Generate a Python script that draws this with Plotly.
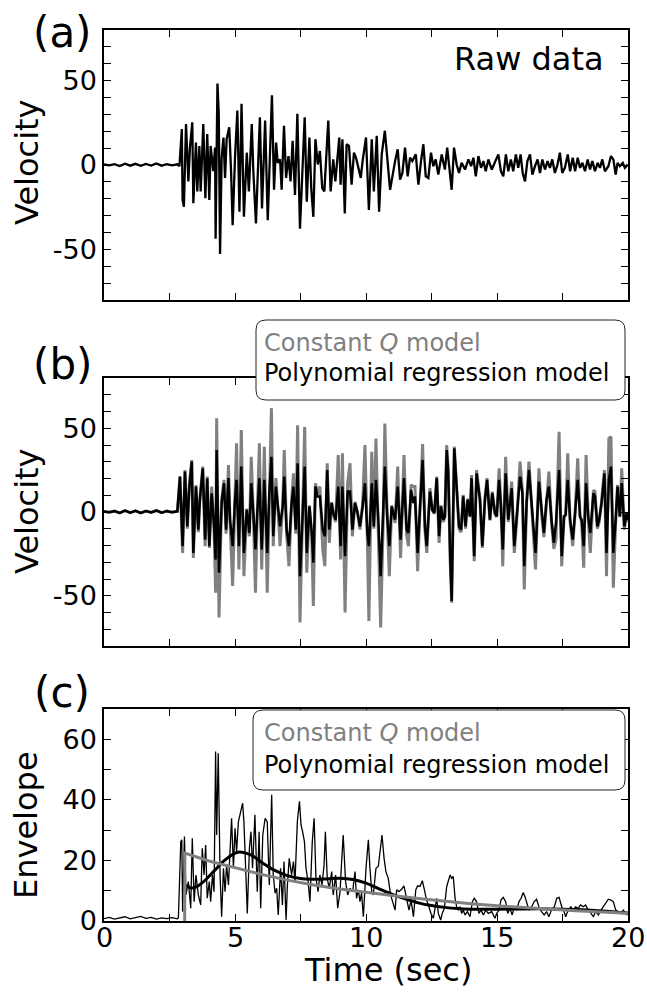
import plotly.graph_objects as go

# ---------------- data ----------------
t_pre = [0.0, 0.2, 0.4, 0.6, 0.8, 1.0, 1.2, 1.4, 1.6, 1.8, 2.0, 2.2, 2.4, 2.6, 2.8]
v_pre = [0.3, -0.2, 0.5, -0.6, 0.8, -0.4, 0.7, -0.5, 0.6, -0.3, 0.9, -0.4, 0.5, -0.2, 0.4]
env_pre = [0.8, 1.2, 0.6, 1.0, 1.4, 0.7, 1.1, 1.5, 0.9, 1.2, 0.6, 1.0, 0.8, 1.1, 0.7]

# (a) raw data
raw_t = [2.88, 2.97, 3.00, 3.05, 3.13, 3.22, 3.28, 3.37, 3.41, 3.51,
         3.56, 3.64, 3.69, 3.79, 3.87, 3.94, 4.02, 4.07, 4.17, 4.24,
         4.26, 4.33, 4.38, 4.43, 4.49, 4.56, 4.62, 4.68, 4.78, 4.85,
         4.91, 5.00, 5.09, 5.17, 5.25, 5.34, 5.45, 5.53, 5.64, 5.70,
         5.80, 5.88, 5.95, 6.03, 6.15, 6.25, 6.34, 6.41, 6.49, 6.57,
         6.63, 6.72, 6.78, 6.87, 6.95, 7.04, 7.12, 7.20, 7.29, 7.38,
         7.48, 7.57, 7.66, 7.74, 7.84, 7.91, 7.99, 8.07, 8.16, 8.24,
         8.33, 8.41, 8.50, 8.56, 8.65, 8.75, 8.83, 8.91, 8.98, 9.03,
         9.10, 9.19, 9.26, 9.35, 9.45, 9.54, 9.62, 9.71, 9.80, 9.87,
         10.00, 10.11, 10.22, 10.30, 10.41, 10.50, 10.60, 10.72, 10.92,
         11.11, 11.21, 11.30, 11.39, 11.49, 11.59, 11.68, 11.77, 11.90, 12.00,
         12.10, 12.19, 12.28, 12.38, 12.48, 12.57, 12.66, 12.76, 12.89, 13.01,
         13.10, 13.21, 13.27, 13.36, 13.46, 13.55, 13.65, 13.78, 13.91, 14.01,
         14.10, 14.19, 14.29, 14.39, 14.48, 14.57, 14.67, 14.80, 14.92, 15.05,
         15.15, 15.24, 15.34, 15.43, 15.53, 15.62, 15.72, 15.81, 15.90, 15.98,
         16.07, 16.16, 16.26, 16.35, 16.45, 16.55, 16.64, 16.73, 16.83, 16.93,
         17.02, 17.11, 17.21, 17.31, 17.40, 17.49, 17.59, 17.70, 17.79, 17.89,
         17.98, 18.08, 18.17, 18.26, 18.36, 18.46, 18.55, 18.64, 18.74, 18.84,
         18.93, 19.02, 19.12, 19.25, 19.35, 19.44, 19.53, 19.60, 19.69, 19.80,
         19.88, 19.99]
raw_v = [-0.7, 21.3, -20.7, -24.7, 24.3, -9.7, 10.3, 25.3, -22.7, 13.3,
         -15.7, 11.3, -15.7, 24.3, -19.7, 18.3, -20.7, 11.3, -3.7, 10.3,
         -43.7, 48.3, 30.3, -52.7, 4.3, 16.3, -7.7, 15.3, 22.3, -3.7,
         -35.7, 4.3, 32.3, -27.7, 36.3, -30.7, 7.3, -15.7, 24.3, -3.7,
         -34.7, -0.7, 28.3, -25.7, 26.3, -32.7, 8.3, 41.3, -14.7, 13.3,
         1.3, 3.3, -14.7, 23.3, -7.7, 5.3, -9.7, 14.3, -17.7, 30.3,
         -37.7, 1.3, 28.3, -21.7, 16.3, -13.7, -30.7, 15.3, 0.3, 8.3,
         -13.7, -15.7, 10.3, 26.3, -15.7, 3.3, -9.7, 4.3, 16.3, -11.7,
         15.3, -28.7, 12.3, 11.3, -11.7, 7.3, 4.3, -1.7, -7.7, 2.3,
         16.3, -26.7, 15.3, -15.7, 17.3, -27.7, 6.3, 20.3, -14.7,
         2.3, 9.3, -8.7, -4.7, 10.3, -6.7, 4.3, 2.3, 6.3, -11.7,
         2.3, 12.3, -6.7, -7.7, 7.3, -0.7, 3.3, -5.7, 6.3, -2.7,
         10.3, -3.7, -14.7, 10.3, 0.3, -4.7, 1.3, -2.7, 3.3, -0.7,
         4.3, -6.7, 5.3, -1.7, 2.3, -3.7, 3.3, -2.7, 1.3, 6.3,
         -3.7, -6.7, 6.3, -3.7, 3.3, -3.7, 6.3, -1.7, 6.3, -4.7,
         -9.7, 2.3, 6.3, -5.7, -0.7, 3.3, -4.7, 3.3, -2.7, 2.3,
         -1.7, 3.3, -4.7, 0.3, 7.3, -4.7, -1.7, 6.3, -3.7, 4.3,
         -3.7, 4.3, -1.7, 1.3, -3.7, 3.3, -2.7, 2.3, -3.7, 1.3,
         -1.7, 3.3, -3.7, -0.7, 5.3, 3.3, -5.7, 1.3, -0.7, 1.3,
         -1.7, 0.3]

# (b) synthetic models (shared time samples)
mod_t = [2.90, 3.00, 3.09, 3.18, 3.26, 3.35, 3.41, 3.51, 3.60, 3.66,
         3.77, 3.86, 3.94, 4.02, 4.11, 4.20, 4.26, 4.30, 4.39, 4.49,
         4.58, 4.66, 4.75, 4.81, 4.91, 5.00, 5.06, 5.15, 5.24, 5.34,
         5.45, 5.55, 5.62, 5.70, 5.78, 5.85, 5.93, 6.02, 6.12, 6.23,
         6.31, 6.39, 6.46, 6.56, 6.65, 6.72, 6.82, 6.88, 6.97, 7.06,
         7.16, 7.23, 7.32, 7.39, 7.48, 7.58, 7.66, 7.74, 7.84, 7.93,
         7.99, 8.07, 8.15, 8.24, 8.35, 8.43, 8.52, 8.60, 8.69, 8.75,
         8.84, 8.94, 9.03, 9.10, 9.20, 9.30, 9.39, 9.48, 9.58, 9.68,
         9.77, 9.87, 9.96, 10.05, 10.11, 10.22, 10.30, 10.38, 10.47, 10.56,
         10.66, 10.72, 10.81, 10.89, 10.98,
         11.11, 11.21, 11.32, 11.45, 11.55, 11.62, 11.72, 11.81, 11.87, 11.97,
         12.06, 12.16, 12.25, 12.32, 12.44, 12.53, 12.61, 12.70, 12.79, 12.86,
         12.95, 13.01, 13.08, 13.14, 13.21, 13.27, 13.37, 13.46, 13.55, 13.63,
         13.71, 13.80, 13.88, 13.97, 14.03, 14.13, 14.22, 14.35, 14.44, 14.54,
         14.62, 14.73, 14.82, 14.92, 14.99, 15.08, 15.15, 15.22, 15.33, 15.43,
         15.56, 15.66, 15.75, 15.88, 15.97, 16.04, 16.13, 16.22, 16.32, 16.41,
         16.47, 16.60, 16.70, 16.79, 16.89, 16.98, 17.08, 17.17, 17.25, 17.37,
         17.47, 17.56, 17.62, 17.70, 17.79, 17.89, 17.98, 18.08, 18.17, 18.23,
         18.31, 18.40, 18.48, 18.56, 18.68, 18.74, 18.83, 18.90, 18.99, 19.10,
         19.18, 19.27, 19.35, 19.44, 19.53, 19.60, 19.69, 19.76, 19.86, 19.95,
         20.0]
poly_v = [21.1, -20.4, 24.1, -8.6, 15.2, 30.1, -24.4, 15.2, -10.5, 7.3,
          26.1, -16.5, 20.2, -20.4, 11.2, -8.6, -28.4, 37.0, -36.3, 5.3,
          17.2, -10.5, 20.2, -4.6, -20.4, 7.3, 19.2, -20.4, 27.1, -24.4,
          1.3, -12.5, 17.2, -0.6, -22.4, -0.6, 20.2, -22.4, 19.2, -24.4,
          11.2, 33.0, -14.5, 15.2, -0.6, -8.6, 3.3, 21.1, -10.5, -20.4,
          5.3, 15.2, -10.5, 29.1, -38.3, 3.3, 27.1, -24.4, 3.3, -12.5,
          -30.3, 15.2, 9.3, 9.3, -10.5, -14.5, 25.1, -10.5, 5.3, -0.6,
          -4.6, 15.2, -20.4, 15.2, -26.4, 12.2, 12.2, -10.5, 5.3, -0.6,
          -8.6, 3.3, 17.2, -12.5, -20.4, 17.2, -8.6, 19.2, -4.6, -38.3,
          -2.6, 27.1, -2.6, -20.4, 3.3,
          -4.6, 15.2, -16.5, 20.2, -10.5, -12.5, 13.2, 5.3, 9.3, -24.4,
          1.3, 31.0, -8.6, -20.4, 12.2, 1.3, -0.6, 20.2, -14.5, 3.3,
          -4.6, -2.6, 37.0, 23.1, -24.4, -53.1, 38.0, 15.2, -8.6, -10.5,
          9.3, -8.6, 7.3, -2.6, 20.2, -26.4, 23.1, 7.3, -20.4, 7.3,
          19.2, -4.6, 11.2, -0.6, -2.6, 19.2, 3.3, -22.4, 23.1, -4.6,
          14.2, -20.4, -4.6, 21.1, 11.2, -32.3, 5.3, 25.1, 5.3, -10.5,
          -24.4, 18.2, -0.6, -12.5, 7.3, 15.2, -4.6, -18.5, -6.6, 25.1,
          -26.4, -2.6, -1.6, 19.2, -4.6, -16.5, -0.6, 19.2, -2.6, -4.6,
          -20.4, 17.2, -2.6, -12.5, 11.2, 9.3, -8.6, -4.6, 5.3, 23.1,
          -24.4, 19.2, 27.1, -24.4, -4.6, 15.2, -2.6, 17.2, -8.6, -0.6,
          -4.6]
constq_v = [21.1, -24.4, 25.1, -10.0, 17.0, 31.0, -27.4, 16.0, -12.0, 8.0,
            27.1, -20.4, 21.1, -21.4, 15.2, -10.0, -48.2, 56.0, -63.0, 7.3,
            19.2, -13.0, 28.1, -6.0, -44.2, 9.0, 41.0, -34.3, 48.9, -38.3,
            2.0, -14.5, 33.0, -1.0, -48.2, -1.0, 41.0, -34.3, 39.0, -48.2,
            14.0, 62.0, -20.4, 20.2, -1.0, -20.4, 4.0, 37.0, -13.0, -32.3,
            6.0, 23.1, -13.0, 51.8, -66.0, 4.0, 50.8, -36.3, 4.0, -15.0,
            -56.1, 17.2, 11.0, 15.2, -22.4, -32.3, 29.1, -18.5, 6.0, -1.0,
            -6.0, 34.0, -28.4, 35.0, -60.0, 17.2, 29.1, -14.5, 6.0, -1.0,
            -10.5, 4.0, 40.0, -15.0, -65.0, 36.0, -10.0, 43.9, -6.0, -69.0,
            -3.0, 52.8, -3.0, -38.3, 4.0,
            -6.6, 27.1, -27.4, 34.0, -13.5, -20.4, 16.2, 15.2, 15.2, -35.3,
            2.0, 40.5, -11.0, -24.4, 14.2, 1.0, -1.0, 21.1, -18.5, 4.0,
            -6.0, -3.0, 40.0, 26.0, -28.4, -54.1, 39.0, 17.0, -10.0, -12.0,
            10.3, -10.0, 8.0, -3.0, 22.1, -29.4, 25.1, 8.0, -21.4, 8.0,
            20.2, -5.0, 12.2, -1.0, -3.0, 26.1, 4.0, -32.3, 33.0, -6.0,
            18.2, -24.4, -6.0, 30.1, 13.0, -46.2, 6.0, 30.1, 6.0, -13.0,
            -34.3, 26.1, -1.0, -15.0, 8.0, 24.1, -6.0, -22.0, -16.5, 47.9,
            -32.3, -3.0, -2.0, 35.0, -6.0, -20.4, -1.0, 32.0, -3.0, -6.0,
            -33.3, 34.0, -3.0, -24.4, 13.0, 12.2, -10.0, -6.0, 6.0, 25.1,
            -38.3, 43.9, 44.9, -45.2, -6.0, 16.2, -3.0, 26.1, -10.5, -1.0,
            -6.0]

# (c) envelopes
env_t = [2.84, 2.93, 2.97, 3.00, 3.07, 3.13, 3.22, 3.31, 3.37, 3.44,
         3.51, 3.60, 3.69, 3.75, 3.82, 3.88, 3.94, 4.02, 4.07, 4.14,
         4.20, 4.26, 4.30, 4.36, 4.43, 4.49, 4.56, 4.62, 4.68, 4.75,
         4.81, 4.87, 4.94, 5.00, 5.06, 5.13, 5.22, 5.29, 5.34, 5.42,
         5.47, 5.55, 5.61, 5.67, 5.76, 5.85, 5.92, 5.98, 6.06, 6.15,
         6.23, 6.31, 6.40, 6.46, 6.53, 6.59, 6.65, 6.74, 6.81, 6.87,
         6.95, 7.00, 7.07, 7.16, 7.23, 7.29, 7.38, 7.46, 7.52, 7.58,
         7.65, 7.71, 7.79, 7.86, 7.95, 8.02, 8.09, 8.17, 8.24, 8.32,
         8.40, 8.45, 8.52, 8.60, 8.69, 8.75, 8.84, 8.92, 9.01, 9.07,
         9.13, 9.22, 9.30, 9.39, 9.49, 9.58, 9.64, 9.71, 9.77, 9.83,
         9.90, 10.00, 10.09, 10.15, 10.22, 10.28, 10.38, 10.47, 10.53, 10.61,
         10.69, 10.76, 10.85, 10.94,
         11.11, 11.17, 11.26, 11.36, 11.45, 11.53, 11.59, 11.64, 11.72, 11.81,
         11.90, 11.97, 12.06, 12.15, 12.23, 12.31, 12.38, 12.48, 12.57, 12.63,
         12.70, 12.76, 12.85, 12.91, 12.99, 13.08, 13.14, 13.21, 13.27, 13.33,
         13.40, 13.46, 13.52, 13.59, 13.65, 13.71, 13.78, 13.87, 13.97, 14.06,
         14.13, 14.22, 14.31, 14.39, 14.48, 14.57, 14.67, 14.80, 14.92, 14.99,
         15.08, 15.15, 15.24, 15.33, 15.41, 15.49, 15.58, 15.66, 15.75, 15.84,
         15.92, 16.00, 16.07, 16.13, 16.22, 16.32, 16.42, 16.51, 16.60, 16.70,
         16.80, 16.89, 16.98, 17.08, 17.19, 17.28, 17.37, 17.47, 17.56, 17.62,
         17.72, 17.82, 17.91, 18.00, 18.10, 18.19, 18.29, 18.38, 18.48, 18.59,
         18.68, 18.76, 18.87, 18.97, 19.06, 19.15, 19.25, 19.35, 19.44, 19.53,
         19.63, 19.73, 19.82, 19.91, 20.0]
env_v = [1.1, 26.2, 26.8, 3.1, 27.9, 8.6, 13.0, 4.2, 27.3, 6.4,
         15.2, 8.6, 5.3, 24.0, 15.2, 25.1, 7.5, 13.0, 6.4, 15.2,
         9.7, 56.0, 28.4, 55.4, 15.2, 1.4, 17.4, 9.7, 18.5, 11.9,
         25.1, 33.9, 17.4, 30.6, 22.9, 32.8, 36.2, 38.9, 32.8, 13.0,
         2.5, 24.0, 29.5, 17.4, 35.1, 9.7, 29.5, 4.2, 28.4, 33.9,
         32.8, 11.9, 41.7, 15.2, 9.2, 10.8, 2.0, 17.4, 5.3, 19.6,
         0.3, 11.9, 20.7, 15.2, 19.6, 13.0, 32.8, 39.5, 31.7, 29.5,
         26.2, 17.4, 13.0, 6.4, 26.2, 33.9, 14.1, 9.7, 15.2, 11.9,
         18.5, 29.5, 14.1, 10.8, 16.3, 8.6, 15.2, 4.2, 9.7, 19.6,
         28.4, 13.0, 8.6, 10.8, 9.7, 16.3, 7.5, 10.3, 6.4, 9.2,
         1.4, 17.4, 26.8, 17.4, 9.7, 8.6, 17.4, 18.0, 22.9, 28.4,
         20.7, 16.3, 14.1, 8.6,
         3.6, 10.3, 9.7, 10.5, 11.6, 8.0, 5.8, 3.6, 6.9, 1.4,
         10.3, 11.6, 11.4, 13.3, 10.3, 6.9, 5.3, 2.5, 0.9, 3.6,
         7.5, 2.5, 0.3, 2.5, 4.2, 11.4, 13.6, 15.2, 14.1, 14.7,
         7.5, 4.7, 3.6, 4.7, 2.5, 3.6, 2.0, 3.1, 1.4, 6.4,
         7.5, 6.4, 2.5, 3.6, 2.0, 3.6, 2.5, 3.1, 0.9, 2.5,
         3.6, 6.9, 7.8, 6.4, 2.5, 4.2, 2.0, 4.7, 3.6, 6.4,
         7.5, 9.4, 8.0, 6.4, 3.6, 4.7, 6.4, 7.2, 4.7, 3.1,
         2.0, 3.1, 1.4, 3.6, 4.7, 7.5, 7.8, 4.7, 3.1, 1.4,
         3.6, 4.7, 3.6, 4.7, 4.2, 5.3, 4.7, 5.3, 3.6, 2.5,
         1.4, 3.1, 2.0, 3.6, 4.7, 6.1, 7.2, 6.9, 6.4, 3.6,
         3.1, 2.5, 3.6, 2.5, 2.0]

cq_env_t = [3.08, 3.085, 4, 5, 6, 7, 8, 9, 10, 11, 12, 13, 14, 15, 16, 17, 18, 19, 20]
cq_env_v = [0, 22.4, 19.8, 17.5, 15.4, 13.5, 11.9, 10.6, 9.4, 8.4, 7.4, 6.5, 5.7, 5.0, 4.4, 3.9, 3.4, 3.0, 2.6]

pr_env_t = [3.15, 3.3, 3.5, 3.8, 4.2, 4.6, 5.1, 5.6, 6.0, 6.5, 7.0, 7.5, 8.0, 8.5, 9.0, 9.5,
            10.0, 10.5, 11.0, 11.5, 12.0, 12.5, 13.0, 13.5, 14.0, 15.0, 16.0, 17.0, 18.0, 19.0, 20.0]
pr_env_v = [12.0, 10.9, 11.2, 13.0, 16.5, 20.0, 22.7, 21.8, 19.5, 16.8, 15.0, 14.0, 13.8, 13.9, 14.1, 13.7,
            12.5, 10.6, 8.8, 7.3, 6.0, 5.1, 4.5, 4.1, 3.9, 3.9, 4.0, 4.0, 3.8, 3.3, 2.6]

x_ticks = [0, 2.5, 5, 7.5, 10, 12.5, 15, 17.5, 20]
x_label_vals = [0, 5, 10, 15, 20]
x_label_text = ["0", "5", "10", "15", "20"]
vel_ticks = [-80, -70, -60, -50, -40, -30, -20, -10, 0, 10, 20, 30, 40, 50, 60, 70, 80]
vel_ticktext = ["", "", "", "-50", "", "", "", "", "0", "", "", "", "", "50", "", "", ""]
env_ticks = [0, 10, 20, 30, 40, 50, 60, 70]
env_ticktext = ["0", "", "20", "", "40", "", "60", ""]

# ---------------- figure ----------------
FONT = "DejaVu Sans"
GRAY = "#808080"
fig = go.Figure()

fig.add_trace(go.Scatter(x=t_pre + raw_t, y=v_pre + raw_v, mode="lines",
                         line=dict(color="black", width=2.3), xaxis="x", yaxis="y"))

fig.add_trace(go.Scatter(x=t_pre + mod_t, y=v_pre + constq_v, mode="lines",
                         line=dict(color=GRAY, width=3), xaxis="x2", yaxis="y2"))
fig.add_trace(go.Scatter(x=t_pre + mod_t, y=v_pre + poly_v, mode="lines",
                         line=dict(color="black", width=2.5), xaxis="x2", yaxis="y2"))

fig.add_trace(go.Scatter(x=t_pre + env_t, y=env_pre + env_v, mode="lines",
                         line=dict(color="black", width=1.3), xaxis="x3", yaxis="y3"))
fig.add_trace(go.Scatter(x=pr_env_t, y=pr_env_v, mode="lines",
                         line=dict(color="black", width=3, shape="spline"), xaxis="x3", yaxis="y3"))
fig.add_trace(go.Scatter(x=cq_env_t, y=cq_env_v, mode="lines",
                         line=dict(color=GRAY, width=3), xaxis="x3", yaxis="y3"))

L, R, T, B = 104, 628, 0, 921  # plot-area pixel extents (layout only)
W = R - L
H = B - T


def py(p):
    return (B - p) / H


def px(p):
    return (p - L) / W


axis_common = dict(showline=True, linecolor="black", linewidth=1.5, mirror="ticks",
                   ticks="inside", ticklen=7, tickwidth=1.2, tickcolor="black",
                   showgrid=False, zeroline=False,
                   tickfont=dict(family=FONT, size=27, color="black"))

layout = dict(
    width=647, height=992,
    margin=dict(l=L, r=647 - R, t=T, b=992 - B),
    paper_bgcolor="white", plot_bgcolor="white",
    showlegend=False,
    font=dict(family=FONT, color="black"),
)
panels = [("", "", (30, 300), vel_ticks, vel_ticktext, [-80, 80]),
          ("2", "2", (378, 646), vel_ticks, vel_ticktext, [-80, 80]),
          ("3", "3", (709, 921), env_ticks, env_ticktext, [0, 70])]
for xs, ys, (top, bot), yt, ytt, yr in panels:
    layout["xaxis" + xs] = dict(axis_common, domain=[0, 1], anchor="y" + ys, range=[0, 20],
                                tickmode="array", tickvals=x_ticks, showticklabels=False)
    layout["yaxis" + ys] = dict(axis_common, domain=[py(bot), py(top)], anchor="x" + xs, range=yr,
                                tickmode="array", tickvals=yt, ticktext=ytt)
fig.update_layout(**layout)


def rrect(x0, y0, x1, y1, r):
    rx, ry = r, r
    pts = (f"M {px(x0 + rx)},{py(y0)} L {px(x1 - rx)},{py(y0)} "
           f"Q {px(x1)},{py(y0)} {px(x1)},{py(y0 + ry)} L {px(x1)},{py(y1 - ry)} "
           f"Q {px(x1)},{py(y1)} {px(x1 - rx)},{py(y1)} L {px(x0 + rx)},{py(y1)} "
           f"Q {px(x0)},{py(y1)} {px(x0)},{py(y1 - ry)} L {px(x0)},{py(y0 + ry)} "
           f"Q {px(x0)},{py(y0)} {px(x0 + rx)},{py(y0)} Z")
    return dict(type="path", path=pts, xref="paper", yref="paper", fillcolor="white",
                line=dict(color="#222222", width=1), layer="above")


fig.add_shape(**rrect(256, 320, 625, 400, 10))
fig.add_shape(**rrect(253, 710, 625, 790, 10))

ann = []


def text(x, y, s, size, color="black", xanchor="center", angle=0):
    ann.append(dict(x=px(x), y=py(y), xref="paper", yref="paper", text=s, showarrow=False,
                    xanchor=xanchor, yanchor="middle", textangle=angle,
                    font=dict(family=FONT, size=size, color=color)))


# x tick labels of the bottom panel, placed at the data positions of the x3 axis
for v, s in zip(x_label_vals, x_label_text):
    ann.append(dict(x=v, y=py(937), xref="x3", yref="paper", text=s, showarrow=False,
                    xanchor="center", yanchor="middle",
                    font=dict(family=FONT, size=27, color="black")))

text(62, 32, "(a)", 42)
text(62, 365, "(b)", 42)
text(62, 692, "(c)", 42)
text(27, 162, "Velocity", 32, angle=-90)
text(27, 511, "Velocity", 32, angle=-90)
text(26, 825, "Envelope", 32, angle=-90)
text(388, 970, "Time (sec)", 32)
text(606, 59, "Raw data", 32, xanchor="right")
text(262, 343, "Constant <i>Q</i> model", 24, color=GRAY, xanchor="left")
text(262, 373, "Polynomial regression model", 24, xanchor="left")
text(262, 733, "Constant <i>Q</i> model", 24, color=GRAY, xanchor="left")
text(262, 765, "Polynomial regression model", 24, xanchor="left")
fig.update_layout(annotations=ann)

fig.write_html("out.html")
